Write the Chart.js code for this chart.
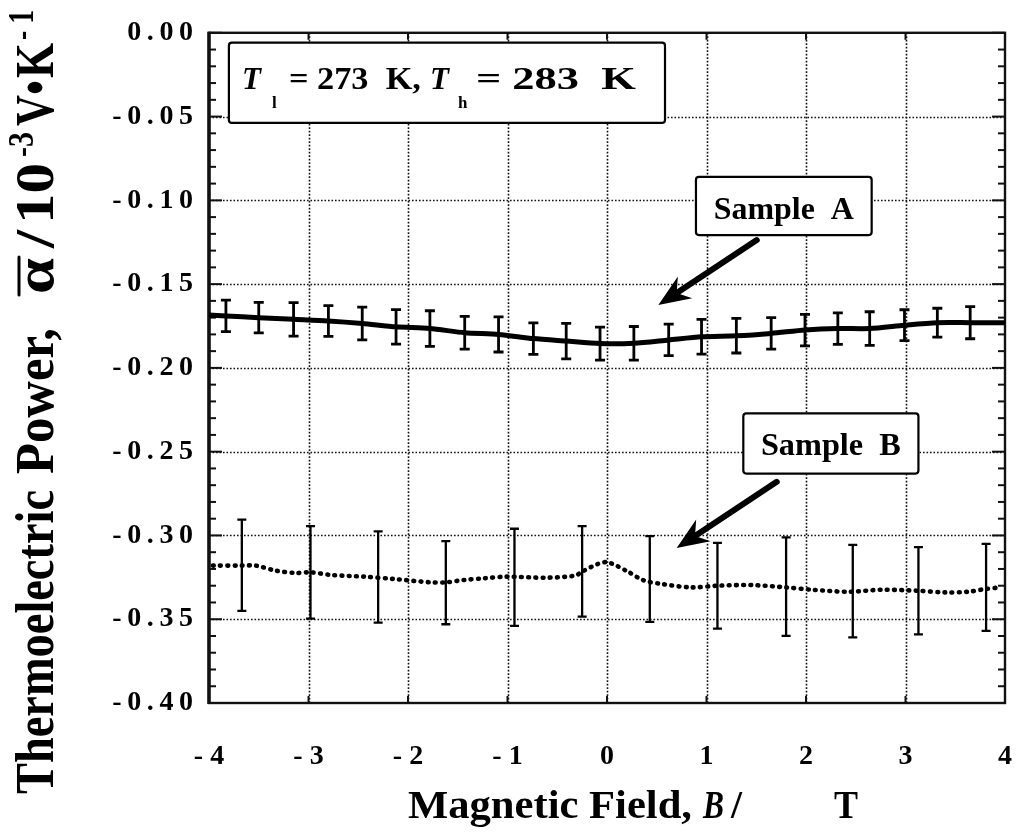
<!DOCTYPE html>
<html>
<head>
<meta charset="utf-8">
<script src="https://cdn.jsdelivr.net/npm/chart.js@4.4.0/dist/chart.umd.min.js"></script>
<style>
  html, body { margin: 0; padding: 0; background: #fff; }
  canvas { display: block; }
</style>
</head>
<body>
<canvas id="tepChart" width="1019" height="834"></canvas>
<script>
// axis ticks
const xTicks = [-4, -3, -2, -1, 0, 1, 2, 3, 4];
const yTicks = [0, -0.05, -0.10, -0.15, -0.20, -0.25, -0.30, -0.35, -0.40];

// Sample A : solid line + error bars
const aLineField = [-4, -3.83, -3.50, -3.15, -2.80, -2.46, -2.12, -1.78, -1.43, -1.09, -0.74, -0.41, -0.07,
  0.27, 0.62, 0.95, 1.30, 1.65, 1.99, 2.32, 2.64, 2.99, 3.32, 3.65, 4];
const aLinePower = [-0.1685, -0.169, -0.170, -0.171, -0.172, -0.1735, -0.1755, -0.1765, -0.179, -0.180, -0.1825, -0.184, -0.1855,
  -0.1853, -0.1833, -0.1814, -0.1808, -0.1794, -0.1774, -0.1765, -0.1765, -0.1745, -0.173, -0.173, -0.173];
const aBarField = [-3.83, -3.50, -3.15, -2.80, -2.46, -2.12, -1.78, -1.43, -1.09, -0.74, -0.41, -0.07,
  0.27, 0.62, 0.95, 1.30, 1.65, 1.99, 2.32, 2.64, 2.99, 3.32, 3.65];
const aBarPower = [-0.169, -0.170, -0.171, -0.172, -0.1735, -0.1755, -0.1765, -0.179, -0.180, -0.1825, -0.184, -0.1855,
  -0.1853, -0.1833, -0.1814, -0.1808, -0.1794, -0.1774, -0.1765, -0.1765, -0.1745, -0.173, -0.173];
const aBarErr = [0.0094, 0.0091, 0.010, 0.0092, 0.0098, 0.0103, 0.0106, 0.0098, 0.0105, 0.0094, 0.0106, 0.0098,
  0.010, 0.0094, 0.0104, 0.0103, 0.0094, 0.0094, 0.0094, 0.010, 0.0092, 0.0086, 0.0096];

// Sample B : dotted line + error bars
const bLineField = [-3.96, -3.67, -3.53, -3.33, -3.13, -2.98, -2.77, -2.44, -2.14, -1.77, -1.62, -1.44, -1.24, -1.01,
  -0.62, -0.32, -0.25, -0.09, 0.01, 0.21, 0.36, 0.55, 0.85, 1.11, 1.45, 1.80, 2.06, 2.43, 2.76, 3.12, 3.40, 3.63, 3.80, 3.95];
const bLinePower = [-0.318, -0.318, -0.318, -0.321, -0.3224, -0.322, -0.3236, -0.3246, -0.326, -0.328, -0.328, -0.3266, -0.3256, -0.3246,
  -0.3252, -0.324, -0.3216, -0.317, -0.316, -0.3216, -0.3266, -0.329, -0.331, -0.330, -0.3296, -0.331, -0.3324, -0.3336, -0.3324, -0.333, -0.334, -0.3336, -0.332, -0.331];
const bBarField = [-3.67, -2.98, -2.30, -1.62, -0.93, -0.25, 0.43, 1.11, 1.80, 2.47, 3.13, 3.81];
const bBarPower = [-0.3178, -0.3220, -0.3248, -0.3282, -0.3250, -0.3214, -0.3260, -0.3300, -0.3305, -0.3332, -0.3330, -0.3310];
const bBarErr = [0.0272, 0.0276, 0.0272, 0.0248, 0.029, 0.027, 0.0256, 0.0256, 0.0294, 0.0276, 0.026, 0.026];

const SERIF = "'Liberation Serif', 'Times New Roman', serif";

// annotation boxes and arrows, in data units
const noteBoxes = [
  { x0: -3.80, x1: 0.583, y0: -0.0059, y1: -0.0538 },
  { x0: 0.894, x1: 2.66, y0: -0.086, y1: -0.1207, label: 'Sample  A' },
  { x0: 1.37, x1: 3.13, y0: -0.2272, y1: -0.2631, label: 'Sample  B' }
];
const noteArrows = [
  { x0: 1.505, y0: -0.1237, x1: 0.516, y1: -0.1625 },
  { x0: 1.706, y0: -0.268, x1: 0.70, y1: -0.3075 }
];

function fitText(ctx, text, x, y, font, width, sy, rot) {
  ctx.save();
  ctx.font = font;
  const w = ctx.measureText(text).width;
  ctx.translate(x, y);
  if (rot) ctx.rotate(rot);
  ctx.scale(width ? width / w : 1, sy || 1);
  ctx.textAlign = 'left';
  ctx.textBaseline = 'alphabetic';
  ctx.fillText(text, 0, 0);
  ctx.restore();
}

function drawArrow(ctx, x0, y0, x1, y1) {
  const dx = x1 - x0, dy = y1 - y0, len = Math.hypot(dx, dy);
  const ux = dx / len, uy = dy / len, nx = -uy, ny = ux;
  const hl = 32, hw = 13, notch = 22;
  ctx.lineWidth = 6;
  ctx.lineCap = 'round';
  ctx.beginPath();
  ctx.moveTo(x0, y0);
  ctx.lineTo(x1 - ux * notch, y1 - uy * notch);
  ctx.stroke();
  ctx.beginPath();
  ctx.moveTo(x1, y1);
  ctx.lineTo(x1 - ux * hl + nx * hw, y1 - uy * hl + ny * hw);
  ctx.lineTo(x1 - ux * notch, y1 - uy * notch);
  ctx.lineTo(x1 - ux * hl - nx * hw, y1 - uy * hl - ny * hw);
  ctx.closePath();
  ctx.fill();
}

const frameGrid = {
  id: 'frameGrid',
  beforeDatasetsDraw(chart) {
    const { ctx, chartArea: a, scales: { x, y } } = chart;
    ctx.save();
    ctx.strokeStyle = '#111';
    // dotted grid
    ctx.lineWidth = 1.6;
    ctx.setLineDash([1.6, 1.9]);
    xTicks.slice(1, -1).forEach(v => {
      const px = Math.round(x.getPixelForValue(v)) + 0.5;
      ctx.beginPath(); ctx.moveTo(px, a.top); ctx.lineTo(px, a.bottom); ctx.stroke();
    });
    ctx.lineWidth = 1.4;
    yTicks.slice(1, -1).forEach(v => {
      const py = Math.round(y.getPixelForValue(v)) + 0.5;
      ctx.beginPath(); ctx.moveTo(a.left, py); ctx.lineTo(a.right, py); ctx.stroke();
    });
    ctx.setLineDash([]);
    // minor / major ticks
    ctx.lineWidth = 2;
    for (let k = 0; k <= 40; k++) {
      const py = y.getPixelForValue(-k / 100);
      const len = k % 5 === 0 ? 13 : 7;
      ctx.beginPath(); ctx.moveTo(a.left, py); ctx.lineTo(a.left + len, py); ctx.stroke();
      ctx.beginPath(); ctx.moveTo(a.right, py); ctx.lineTo(a.right - len, py); ctx.stroke();
    }
    xTicks.forEach(v => {
      const px = x.getPixelForValue(v);
      ctx.beginPath(); ctx.moveTo(px, a.top); ctx.lineTo(px, a.top + 7); ctx.stroke();
      ctx.beginPath(); ctx.moveTo(px, a.bottom); ctx.lineTo(px, a.bottom - 7); ctx.stroke();
    });
    // frame
    ctx.lineWidth = 2.4;
    ctx.strokeRect(a.left, a.top, a.right - a.left, a.bottom - a.top);
    ctx.lineWidth = 3.5;
    ctx.beginPath(); ctx.moveTo(a.left, a.top - 1); ctx.lineTo(a.left, a.bottom + 1); ctx.stroke();
    ctx.restore();
  }
};

const errorBars = {
  id: 'errorBars',
  afterDatasetsDraw(chart) {
    const { ctx, scales: { x, y } } = chart;
    const sets = [
      [aBarField, aBarPower, aBarErr, 2.8, 5],
      [bBarField, bBarPower, bBarErr, 2.3, 4.5]
    ];
    ctx.save();
    ctx.strokeStyle = '#000';
    sets.forEach(([fx, pw, er, lw, cap]) => {
      ctx.lineWidth = lw;
      fx.forEach((b, i) => {
        const px = x.getPixelForValue(b);
        const top = y.getPixelForValue(pw[i] + er[i]);
        const bot = y.getPixelForValue(pw[i] - er[i]);
        ctx.beginPath();
        ctx.moveTo(px, top); ctx.lineTo(px, bot);
        ctx.moveTo(px - cap, top); ctx.lineTo(px + cap, top);
        ctx.moveTo(px - cap, bot); ctx.lineTo(px + cap, bot);
        ctx.stroke();
      });
    });
    ctx.restore();
  }
};

const notes = {
  id: 'notes',
  afterDraw(chart) {
    const { ctx, scales: { x, y } } = chart;
    ctx.save();
    ctx.fillStyle = '#000';
    ctx.strokeStyle = '#000';
    noteArrows.forEach(n => drawArrow(ctx, x.getPixelForValue(n.x0), y.getPixelForValue(n.y0),
      x.getPixelForValue(n.x1), y.getPixelForValue(n.y1)));
    noteBoxes.forEach(b => {
      const L = x.getPixelForValue(b.x0), R = x.getPixelForValue(b.x1);
      const T = y.getPixelForValue(b.y0), B = y.getPixelForValue(b.y1);
      ctx.fillStyle = '#fff';
      ctx.lineWidth = 2.2;
      ctx.beginPath();
      ctx.roundRect(L, T, R - L, B - T, 3);
      ctx.fill();
      ctx.stroke();
      ctx.fillStyle = '#000';
      if (b.label) {
        const cx = (L + R) / 2;
        fitText(ctx, b.label, cx - 70, T + 42, 'bold 31px ' + SERIF, 140);
      } else {
        const bl = T + 46;
        fitText(ctx, 'T', L + 13, bl, 'italic bold 31px ' + SERIF);
        fitText(ctx, 'l', L + 43, bl + 19, 'bold 17px ' + SERIF);
        fitText(ctx, '= 273  K,', L + 60, bl, 'bold 31px ' + SERIF, 132);
        fitText(ctx, 'T', L + 201, bl, 'italic bold 31px ' + SERIF);
        fitText(ctx, 'h', L + 229, bl + 19, 'bold 17px ' + SERIF);
        fitText(ctx, '= 283  K', L + 247, bl, 'bold 31px ' + SERIF, 160);
      }
    });

    // x axis title
    const xb = 818;
    const xf = 'bold 40px ' + SERIF;
    fitText(ctx, 'Magnetic Field,', 408, xb, xf, 284);
    fitText(ctx, 'B', 703, xb, 'italic bold 40px ' + SERIF, 21);
    fitText(ctx, '/', 731, xb, xf, 11);
    fitText(ctx, 'T', 834, xb, xf, 24);

    // y axis title, running bottom to top
    const up = -Math.PI / 2;
    const main = 'bold 42px ' + SERIF, sup = 'bold 28px ' + SERIF;
    const segs = [
      ['Thermoelectric', 794, 490, main, 53],
      ['Power,', 474, 328, main, 53],
      ['\u03b1', 294, 258, main, 53],
      ['/', 248, 230, main, 53],
      ['10', 224, 163, main, 53],
      ['-3', 157, 132, sup, 33],
      ['V\u2022', 126, 80, main, 53],
      ['K', 78, 43, main, 53],
      ['- 1', 40, 10, sup, 33]
    ];
    segs.forEach(([t, y0, y1, f, bx]) => fitText(ctx, t, bx, y0, f, y0 - y1, 1.3, up));
    ctx.lineWidth = 3;
    ctx.beginPath(); ctx.moveTo(19, 295); ctx.lineTo(19, 257); ctx.stroke();
    ctx.restore();
  }
};

function fmtY(v) {
  return (Math.abs(v) < 1e-9 ? 0 : v).toFixed(2).split('').join('\u2009');
}

new Chart(document.getElementById('tepChart'), {
  type: 'line',
  data: {
    datasets: [
      {
        label: 'Sample A',
        data: aLineField.map((b, i) => ({ x: b, y: aLinePower[i] })),
        borderColor: '#000',
        borderWidth: 5,
        pointRadius: 0,
        tension: 0.25
      },
      {
        label: 'Sample B',
        data: bLineField.map((b, i) => ({ x: b, y: bLinePower[i] })),
        borderColor: '#000',
        borderWidth: 4.6,
        borderDash: [0.8, 6.4],
        borderCapStyle: 'round',
        pointRadius: 0,
        tension: 0.3
      }
    ]
  },
  plugins: [frameGrid, errorBars, notes],
  options: {
    responsive: false,
    animation: false,
    devicePixelRatio: 1,
    layout: { padding: { left: 0, right: 14, top: 27, bottom: 0 } },
    plugins: { legend: { display: false }, tooltip: { enabled: false } },
    scales: {
      x: {
        type: 'linear',
        min: -4,
        max: 4,
        afterBuildTicks: s => { s.ticks = xTicks.map(v => ({ value: v })); },
        afterFit: s => { s.height = 131; s.paddingLeft = 0; s.paddingRight = 0; },
        grid: { display: false, drawTicks: false },
        border: { display: false },
        ticks: {
          padding: 37,
          maxRotation: 0,
          autoSkip: false,
          color: '#000',
          font: { family: SERIF, size: 28, weight: 'bold' },
          callback: v => v < 0 ? '- ' + Math.abs(v) : String(v)
        }
      },
      y: {
        min: -0.4,
        max: 0,
        afterBuildTicks: s => { s.ticks = yTicks.map(v => ({ value: v })); },
        afterFit: s => { s.width = 209; },
        grid: { display: false, drawTicks: false },
        border: { display: false },
        ticks: {
          padding: 16,
          color: '#000',
          font: { family: SERIF, size: 28, weight: 'bold' },
          callback: v => fmtY(v)
        }
      }
    }
  }
});
</script>
</body>
</html>
